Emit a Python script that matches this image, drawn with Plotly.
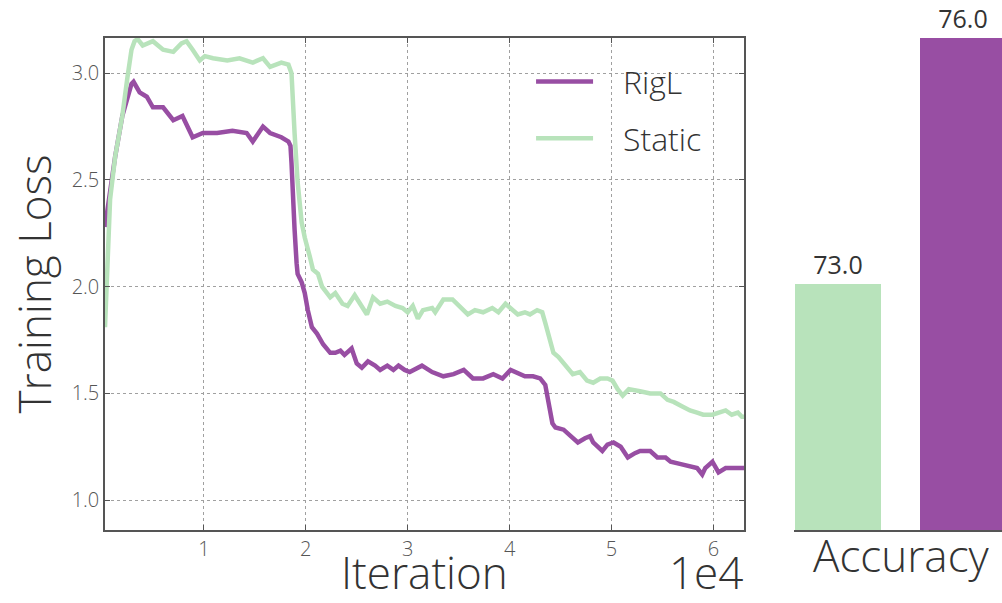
import plotly.graph_objects as go

# ---------------- data ----------------
rigl_iter = [300,1300,2000,2900,3100,3700,4400,5000,6000,7000,7900,8900,9900,11300,12800,14200,14800,15800,16500,17600,
             18300,18500,18600,18700,18900,19100,19200,19600,19900,20200,20600,21100,21700,22400,22900,23400,23800,24500,25000,25500,
             26100,26800,27300,28000,28600,29100,29700,30200,31400,32400,33500,34500,35500,36400,37400,38400,39300,40100,40600,41500,
             42300,43000,43500,43800,44200,44500,45300,46000,46700,47400,47900,48200,49100,49600,50200,50900,51600,52300,52800,53800,
             54500,55300,55800,56700,57600,58400,58900,59200,59900,60500,61200,61900,62800,63000]
rigl_loss = [2.28,2.61,2.80,2.95,2.96,2.91,2.89,2.84,2.84,2.78,2.80,2.70,2.72,2.72,2.73,2.72,2.68,2.75,2.72,2.70,
             2.68,2.66,2.58,2.42,2.27,2.11,2.06,2.02,1.97,1.89,1.81,1.78,1.73,1.69,1.69,1.70,1.68,1.71,1.64,1.62,
             1.65,1.63,1.61,1.63,1.61,1.63,1.61,1.60,1.63,1.60,1.58,1.59,1.61,1.57,1.57,1.59,1.57,1.61,1.60,1.58,
             1.58,1.57,1.54,1.47,1.36,1.34,1.33,1.30,1.27,1.29,1.30,1.27,1.23,1.26,1.27,1.25,1.20,1.22,1.23,1.23,
             1.20,1.20,1.18,1.17,1.16,1.15,1.12,1.15,1.18,1.13,1.15,1.15,1.15,1.15]

static_iter = [300,800,1300,2000,2500,2900,3200,3500,4000,5000,6000,7000,7800,8300,8900,9600,10100,10900,12300,13500,
               14800,15800,16500,17600,18300,18600,18900,19200,19600,19900,20400,20700,21200,21600,22400,22900,23600,24100,24800,25500,
               26000,26600,27300,28000,28800,29500,30000,30500,31000,31500,32400,32700,33500,34400,35000,35900,36600,37400,38300,38900,
               39600,40100,40800,41500,42000,42700,43200,43500,43800,44300,44800,45500,46200,46900,47600,48200,48900,49600,50100,50600,
               51100,51700,52500,52800,53800,54800,55500,56100,56900,57700,58400,59000,59900,60500,61200,61800,62400,62800,63000]
static_loss = [1.81,2.41,2.61,2.80,2.98,3.11,3.15,3.16,3.13,3.15,3.11,3.10,3.14,3.15,3.11,3.06,3.08,3.07,3.06,3.07,
               3.05,3.07,3.03,3.05,3.04,3.00,2.72,2.49,2.30,2.23,2.14,2.08,2.06,2.00,1.95,1.97,1.92,1.91,1.96,1.91,
               1.87,1.95,1.92,1.93,1.91,1.90,1.88,1.91,1.85,1.89,1.90,1.88,1.94,1.94,1.91,1.87,1.89,1.88,1.90,1.88,
               1.92,1.90,1.87,1.88,1.87,1.89,1.88,1.83,1.77,1.69,1.67,1.63,1.59,1.60,1.56,1.55,1.57,1.57,1.56,1.52,
               1.49,1.52,1.51,1.51,1.50,1.50,1.47,1.46,1.44,1.42,1.41,1.40,1.40,1.41,1.42,1.40,1.41,1.39,1.39]

assert len(rigl_iter) == len(rigl_loss)
assert len(static_iter) == len(static_loss)

x_tick_vals = [10000, 20000, 30000, 40000, 50000, 60000]
x_tick_text = ["1", "2", "3", "4", "5", "6"]
y_tick_vals = [1.0, 1.5, 2.0, 2.5, 3.0]
y_tick_text = ["1.0", "1.5", "2.0", "2.5", "3.0"]

bar_methods = ["Static", "RigL"]
bar_pos = [0, 1]
bar_accuracy = [73.0, 76.0]

PURPLE = "#984ea3"
GREEN = "#b8e3bb"
FONT = "Open Sans"
TXT = "#333333"
AX = "#555555"
PAD = "\u00a0\u00a0\u00a0"

fig = go.Figure()

fig.add_trace(go.Scatter(x=rigl_iter, y=rigl_loss, mode="lines", name=PAD + "RigL",
                         line=dict(color=PURPLE, width=4.5), legendgroup="a",
                         xaxis="x", yaxis="y"))
fig.add_trace(go.Scatter(x=static_iter, y=static_loss, mode="lines", name=PAD + "Static",
                         line=dict(color=GREEN, width=4.5), legendgroup="b",
                         xaxis="x", yaxis="y"))

fig.add_trace(go.Bar(x=bar_pos, y=bar_accuracy, width=0.69,
                     marker=dict(color=[GREEN, PURPLE], line=dict(width=0)),
                     text=[f"{v:.1f}" for v in bar_accuracy], textposition="outside",
                     textfont=dict(family=FONT, size=25, color=TXT),
                     cliponaxis=False, showlegend=False,
                     xaxis="x2", yaxis="y2"))

fig.update_layout(
    width=1002, height=603,
    margin=dict(l=0, r=0, t=0, b=0),
    paper_bgcolor="white", plot_bgcolor="white",
    font=dict(family=FONT, color=TXT),
    showlegend=True,
    legend=dict(x=0.530, y=0.91, xanchor="left", yanchor="top",
                font=dict(family=FONT, size=32, color=TXT, weight=300),
                bgcolor="rgba(0,0,0,0)", tracegroupgap=12, itemwidth=57),
    xaxis=dict(domain=[105/1002, 744/1002], range=[300, 63000], automargin=False,
               tickvals=x_tick_vals, ticktext=x_tick_text,
               showline=True, mirror="ticks", linecolor=AX, linewidth=1.5,
               ticks="inside", ticklen=5, tickcolor=AX,
               showgrid=True, gridcolor="#a0a0a0", griddash="dot", gridwidth=1,
               zeroline=False,
               tickfont=dict(family=FONT, size=20, color="#555555", weight=300)),
    yaxis=dict(domain=[73/603, 565/603], range=[0.86, 3.165], automargin=False,
               tickvals=y_tick_vals, ticktext=y_tick_text,
               showline=True, mirror="ticks", linecolor=AX, linewidth=1.5,
               ticks="inside", ticklen=5, tickcolor=AX,
               showgrid=True, gridcolor="#a0a0a0", griddash="dot", gridwidth=1,
               zeroline=False,
               tickfont=dict(family=FONT, size=20, color="#555555", weight=300),
               title=dict(text="Training Loss", font=dict(family=FONT, size=44, color=TXT, weight=300),
                          standoff=6)),
    xaxis2=dict(domain=[794/1002, 1.0], range=[-0.352, 1.312], anchor="y2", automargin=False,
                showline=True, linecolor=AX, linewidth=1.5, showgrid=False, zeroline=False,
                showticklabels=False, ticks=""),
    yaxis2=dict(domain=[73/603, 565/603], range=[70, 76], anchor="x2", automargin=False,
                showline=False, showgrid=False, zeroline=False, showticklabels=False, ticks=""),
    bargap=0,
)

title_font = dict(family=FONT, size=44, color=TXT, weight=300)
fig.add_annotation(text="Iteration", xref="paper", yref="paper", x=424.5/1002, y=0.0,
                   xanchor="center", yanchor="bottom", showarrow=False, borderpad=0,
                   font=title_font)
fig.add_annotation(text="1e4", xref="paper", yref="paper", x=744/1002, y=0.0,
                   xanchor="right", yanchor="bottom", showarrow=False, borderpad=0,
                   font=title_font)
fig.add_annotation(text="Accuracy", xref="paper", yref="paper", x=901/1002, y=16/603,
                   xanchor="center", yanchor="bottom", showarrow=False,
                   font=title_font)

fig.write_html("out.html")
